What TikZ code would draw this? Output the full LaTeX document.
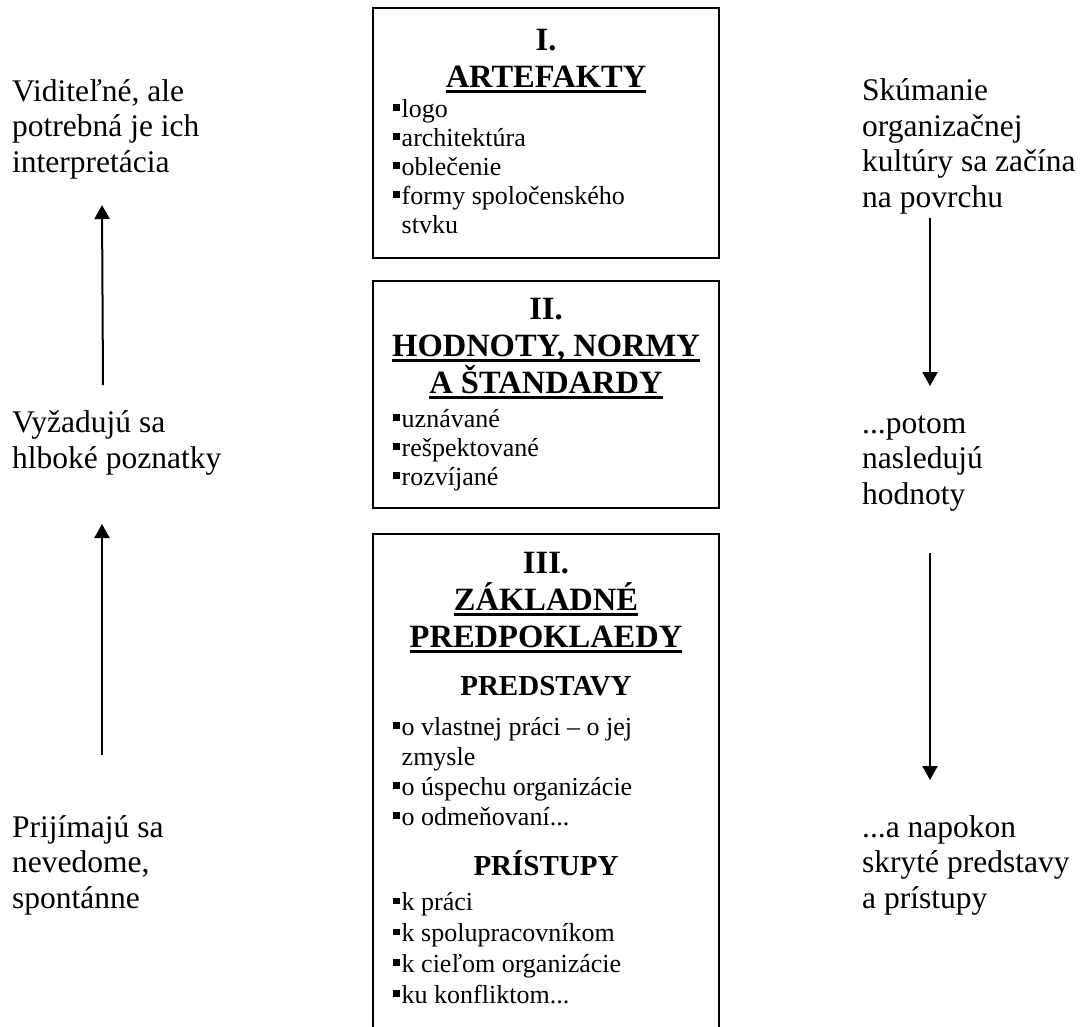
\documentclass[tikz,border=0pt]{standalone}
\usepackage{fontspec}
\setmainfont{Liberation Serif}
\usetikzlibrary{arrows.meta}

\newcommand\sqb{\rule[6.5pt]{6.5pt}{6.5pt}\hspace{2pt}}
\newcommand\ulbar[1]{\setbox0\hbox{#1}\rlap{\rule[-5.5pt]{\wd0}{3pt}}\box0}

\begin{document}
\begin{tikzpicture}[x=1pt, y=-1pt, line join=miter,
	lbl/.style={align=left, anchor=base west, inner sep=0pt, font=\fontsize{31.5}{35.5}\selectfont},
	box/.style={draw, line width=2.5pt},
	ttl/.style={align=center, anchor=base, inner sep=0pt, font=\fontsize{32.5}{37}\selectfont\bfseries},
	subttl/.style={anchor=base, inner sep=0pt, font=\fontsize{29}{33}\selectfont\bfseries},
	itm/.style={align=left, anchor=base west, inner sep=0pt, font=\fontsize{26}{29}\selectfont},
	arr/.style={-{Triangle[width=15pt,length=14pt]}, line width=2pt}]
		\useasboundingbox (0,0) rectangle (1083,1026);
		
		% Boxes
		\node[box, minimum width=346pt, minimum height=250pt] (artbox) at (546,133) {};
		\node[box, minimum width=346pt, minimum height=227pt] (hodbox) at (546,394.5) {};
		\draw[box] (373,1030) -- (373,534) -- (719,534) -- (719,1030);
		
		% Level I (nodes sit on their last baseline)
		\node[ttl] (artttl) at (546,87) {I.\\\ulbar{ARTEFAKTY}};
		\node[itm] (artitm) at (393,233) {\sqb logo\\\sqb architektúra\\\sqb oblečenie\\\sqb formy spoločenského\\\hspace{8.5pt}stvku};
		
		% Level II
		\node[ttl] (hodttl) at (546,393) {II.\\\ulbar{HODNOTY, NORMY}\\\ulbar{A ŠTANDARDY}};
		\node[itm] (hoditm) at (393,485) {\sqb uznávané\\\sqb rešpektované\\\sqb rozvíjané};
		
		% Level III
		\node[ttl] (zakttl) at (546,647) {III.\\\ulbar{ZÁKLADNÉ}\\\ulbar{PREDPOKLAEDY}};
		\node[subttl] (predttl) at (546,695) {PREDSTAVY};
		\node[itm, font=\fontsize{26}{30}\selectfont] (preditm) at (393,825) {\sqb o vlastnej práci – o jej\\\hspace{8.5pt}zmysle\\\sqb o úspechu organizácie\\\sqb o odmeňovaní...};
		\node[subttl] (pristttl) at (546,875) {PRÍSTUPY};
		\node[itm, font=\fontsize{26}{30.7}\selectfont] (pristitm) at (393,1003) {\sqb k práci\\\sqb k spolupracovníkom\\\sqb k cieľom organizácie\\\sqb ku konfliktom...};
		
		% Left side
		\node[lbl] (vidit) at (12,172) {Viditeľné, ale\\potrebná je ich\\interpretácia};
		\node[lbl] (vyzad) at (12,468) {Vyžadujú sa\\hlboké poznatky};
		\node[lbl] (prijim) at (12,908) {Prijímajú sa\\nevedome,\\spontánne};
		\coordinate (up1s) at (103,385);
		\coordinate (up1e) at (102,205);
		\coordinate (up2s) at (102,755);
		\coordinate (up2e) at (102,524);
		\draw[arr] (up1s) -- (up1e);
		\draw[arr] (up2s) -- (up2e);
		
		% Right side
		\node[lbl] (skum) at (862,207) {Skúmanie\\organizačnej\\kultúry sa začína\\na povrchu};
		\node[lbl] (potom) at (862,504) {...potom\\nasledujú\\hodnoty};
		\node[lbl] (napok) at (862,908) {...a napokon\\skryté predstavy\\a prístupy};
		\coordinate (dn1s) at (930,218);
		\coordinate (dn1e) at (930,386);
		\coordinate (dn2s) at (930,553);
		\coordinate (dn2e) at (930,780);
		\draw[arr] (dn1s) -- (dn1e);
		\draw[arr] (dn2s) -- (dn2e);
	\end{tikzpicture}
\end{document}
